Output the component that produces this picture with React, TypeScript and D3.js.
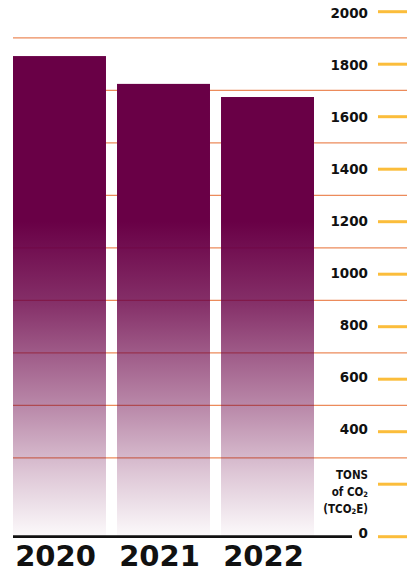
import React from "react";
import * as d3 from "d3";

const years = ["2020", "2021", "2022"];
const emissions = [1831, 1725, 1675];
const tickValues = [0, 400, 600, 800, 1000, 1200, 1400, 1600, 1800, 2000];
const yellowTicks = [0, 200, 400, 600, 800, 1000, 1200, 1400, 1600, 1800, 2000];
const gridValues = [300, 500, 700, 900, 1100, 1300, 1500, 1700, 1900];
const unitLines = ["TONS", "of CO|2", "(TCO|2|E)"];

const W = 407;
const H = 573;

export default function App() {
  const y = d3.scaleLinear().domain([0, 2000]).range([536.7, 11.7]);
  const yLabel = d3.scaleLinear().domain([0, 2000]).range([532.7, 13.3]);
  const x = d3
    .scaleBand<string>()
    .domain(years)
    .range([13, 314])
    .paddingInner(0.106)
    .paddingOuter(0);

  const renderUnit = (line: string) => {
    const parts = line.split("|");
    return parts.map((p, i) =>
      i % 2 === 1 ? (
        <tspan key={i} fontSize={7.5} dy={2.5}>
          {p}
        </tspan>
      ) : (
        <tspan key={i} dy={i === 0 ? 0 : -2.5}>
          {p}
        </tspan>
      )
    );
  };

  return (
    <svg
      width={W}
      height={H}
      style={{ position: "absolute", left: 0, top: 0, background: "#fff" }}
    >
      <defs>
        <linearGradient
          id="barGrad"
          gradientUnits="userSpaceOnUse"
          x1={0}
          x2={0}
          y1={y(1200)}
          y2={y(0)}
        >
          <stop offset="0" stopColor="#690046" stopOpacity={1} />
          <stop offset="0.25" stopColor="#690046" stopOpacity={0.82} />
          <stop offset="0.6" stopColor="#690046" stopOpacity={0.45} />
          <stop offset="0.8" stopColor="#690046" stopOpacity={0.22} />
          <stop offset="1" stopColor="#690046" stopOpacity={0.02} />
        </linearGradient>
      </defs>

      {gridValues.map((v) => (
        <line
          key={v}
          x1={13}
          x2={W}
          y1={y(v)}
          y2={y(v)}
          stroke="#e9773e"
          strokeOpacity={0.85}
          strokeWidth={1.3}
        />
      ))}

      {years.map((yr, i) => (
        <rect
          key={yr}
          x={x(yr)}
          y={y(emissions[i])}
          width={x.bandwidth()}
          height={y(0) - y(emissions[i])}
          fill="url(#barGrad)"
        />
      ))}

      <line
        x1={13}
        x2={352}
        y1={y(0)}
        y2={y(0)}
        stroke="#111"
        strokeWidth={2.8}
      />

      {yellowTicks.map((v) => (
        <line
          key={v}
          x1={378}
          x2={W}
          y1={y(v)}
          y2={y(v)}
          stroke="#fbbd3b"
          strokeWidth={3}
        />
      ))}

      {tickValues.map((v) => (
        <text
          key={v}
          x={368}
          y={yLabel(v)}
          textAnchor="end"
          dominantBaseline="central"
          fontFamily="'DejaVu Sans', sans-serif"
          fontWeight={700}
          fontSize={13.5}
          fill="#111"
        >
          {v}
        </text>
      ))}

      {unitLines.map((ln, i) => (
        <text
          key={i}
          x={368}
          y={yLabel(200) - 6 + i * 17}
          textAnchor="end"
          dominantBaseline="central"
          fontFamily="'DejaVu Sans Condensed', 'DejaVu Sans', sans-serif"
          fontWeight={700}
          fontSize={11.5}
          fill="#111"
        >
          {renderUnit(ln)}
        </text>
      ))}

      {years.map((yr) => (
        <text
          key={yr}
          x={(x(yr) as number) + x.bandwidth() / 2 - 4}
          y={566}
          textAnchor="middle"
          fontFamily="'DejaVu Sans', sans-serif"
          fontWeight={700}
          fontSize={29}
          fill="#111"
        >
          {yr}
        </text>
      ))}
    </svg>
  );
}
